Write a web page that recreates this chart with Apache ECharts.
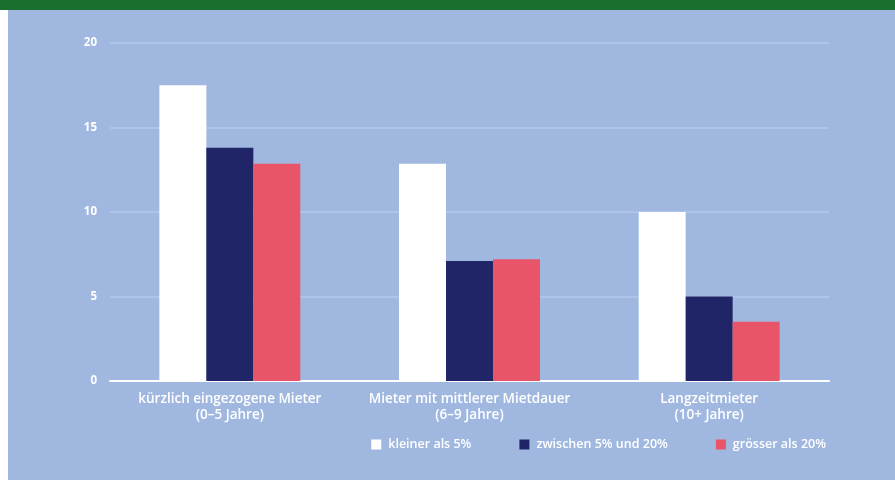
<!DOCTYPE html>
<html>
<head>
<meta charset="utf-8">
<script src="https://cdn.jsdelivr.net/npm/echarts@6/dist/echarts.min.js"></script>
<style>
html,body{margin:0;padding:0;background:#fff;}
#chart{width:895px;height:480px;}
</style>
</head>
<body>
<div id="chart"></div>
<script>
const categories = [
  'kürzlich eingezogene Mieter\n(0–5 Jahre)',
  'Mieter mit mittlerer Mietdauer\n(6–9 Jahre)',
  'Langzeitmieter\n(10+ Jahre)'
];
const seriesNames = ['kleiner als 5%', 'zwischen 5% und 20%', 'grösser als 20%'];
const small = [17.5, 12.85, 10.0];
const medium = [13.8, 7.1, 5.0];
const large = [12.85, 7.2, 3.5];
const colors = ['#ffffff', '#1f2566', '#e85468'];

const chart = echarts.init(document.getElementById('chart'), null, {renderer: 'canvas'});
const font = '"Open Sans", "Noto Sans", sans-serif';
const mk = (name, data, i) => ({
  name, type: 'bar', data,
  barWidth: '19.6%', barGap: '0%',
  itemStyle: {color: colors[i]},
  emphasis: {disabled: true}
});
chart.setOption({
  animation: false,
  backgroundColor: '#a0b8e0',
  textStyle: {fontFamily: font},
  graphic: [
    {type: 'rect', left: 0, top: 0, shape: {width: 895, height: 10}, style: {fill: '#1a6e2e'}, z: 10},
    {type: 'rect', left: 0, top: 10, shape: {width: 8, height: 470}, style: {fill: '#ffffff'}, z: 10}
  ],
  grid: {left: 110, right: 66, top: 43, bottom: 99, containLabel: false},
  legend: {
    data: seriesNames,
    right: 64, top: 433,
    itemWidth: 10, itemHeight: 10, itemGap: 48,
    icon: 'rect',
    textStyle: {color: '#ffffff', fontSize: 12.5, fontWeight: 600, fontFamily: font, padding: [0, 0, 0, 2]}
  },
  xAxis: {
    type: 'category',
    data: categories,
    axisLine: {show: true, lineStyle: {color: '#ffffff', width: 2}},
    axisTick: {show: false},
    axisLabel: {interval: 0, hideOverlap: false, color: '#ffffff', fontSize: 13.5, fontWeight: 600, lineHeight: 16, margin: 10, fontFamily: font}
  },
  yAxis: {
    type: 'value', min: 0, max: 20, interval: 5,
    axisLine: {show: false}, axisTick: {show: false},
    axisLabel: {color: '#ffffff', fontSize: 11.5, fontWeight: 700, margin: 13, fontFamily: font},
    splitLine: {lineStyle: {color: '#b6c9ee', width: 1.5}}
  },
  series: [mk(seriesNames[0], small, 0), mk(seriesNames[1], medium, 1), mk(seriesNames[2], large, 2)]
});
</script>
</body>
</html>
